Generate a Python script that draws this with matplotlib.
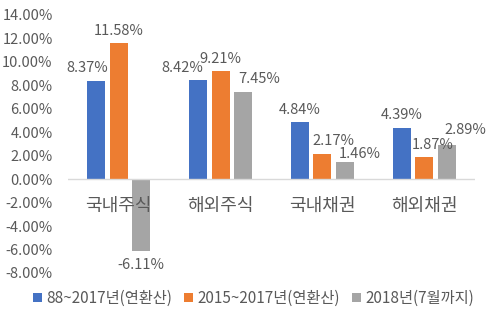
import numpy as np
import matplotlib
matplotlib.use("Agg")
import matplotlib.pyplot as plt
from matplotlib.ticker import FuncFormatter

plt.rcParams["font.family"] = ["Noto Sans CJK KR", "DejaVu Sans"]

categories = ["국내주식", "해외주식", "국내채권", "해외채권"]
series_names = ["88~2017년(연환산)", "2015~2017년(연환산)", "2018년(7월까지)"]
long_term = [8.37, 8.42, 4.84, 4.39]
recent = [11.58, 9.21, 2.17, 1.87]
ytd_2018 = [-6.11, 7.45, 1.46, 2.89]

colors = ["#4472C4", "#ED7D31", "#A5A5A5"]
text_color = "#595959"

# label shifts in pixels (Excel nudged some labels sideways to avoid overlaps)
label_dx = [
    [-9, -16, 0, 0],
    [0, 0, 11, 9],
    [0, 16, 15, 19],
]
label_dy = [
    [4, 4, 4, 4],
    [4, 4, 4, 4],
    [4, 4, 1, 6],
]

fig = plt.figure(figsize=(4.87, 3.21), dpi=100)
ax = fig.add_axes([68 / 487, 48 / 321, 407 / 487, 258 / 321])

x = np.arange(len(categories))
width = 0.177
step = 0.221
all_series = [long_term, recent, ytd_2018]

for i, (vals, name, c) in enumerate(zip(all_series, series_names, colors)):
    pos = x + (i - 1) * step
    ax.bar(pos, vals, width=width, color=c, label=name, zorder=2)
    for j, (p, v) in enumerate(zip(pos, vals)):
        dx = label_dx[i][j] * 0.72
        if v >= 0:
            ax.annotate(f"{v:.2f}%", xy=(p, v), xytext=(dx, label_dy[i][j]), textcoords="offset points",
                        ha="center", va="bottom", fontsize=10.5, color=text_color)
        else:
            ax.annotate(f"{v:.2f}%", xy=(p, v), xytext=(dx, -5), textcoords="offset points",
                        ha="center", va="top", fontsize=10.5, color=text_color)

ax.set_xlim(-0.5, len(categories) - 0.5)
ax.set_ylim(-8, 14)
ax.set_yticks(np.arange(-8, 15, 2))
ax.yaxis.set_major_formatter(FuncFormatter(lambda v, _: f"{v:.2f}%"))
ax.tick_params(axis="y", length=0, labelsize=10.5, labelcolor=text_color, pad=11)
ax.set_xticks([])
ax.axhline(0, color="#D9D9D9", lw=1, zorder=3)

for j, cat in enumerate(categories):
    ax.annotate(cat, xy=(x[j], 0), xytext=(0, -19), textcoords="offset points",
                ha="center", va="center", fontsize=13, color=text_color)

for s in ax.spines.values():
    s.set_visible(False)

ax.legend(loc="center", bbox_to_anchor=(0.5 - 18 / 407, -0.098), ncol=3, frameon=False,
          fontsize=11, labelcolor=text_color, handlelength=0.6, handleheight=0.6,
          handletextpad=0.25, columnspacing=0.8, borderaxespad=0)

fig.savefig("out.png", dpi=100)
